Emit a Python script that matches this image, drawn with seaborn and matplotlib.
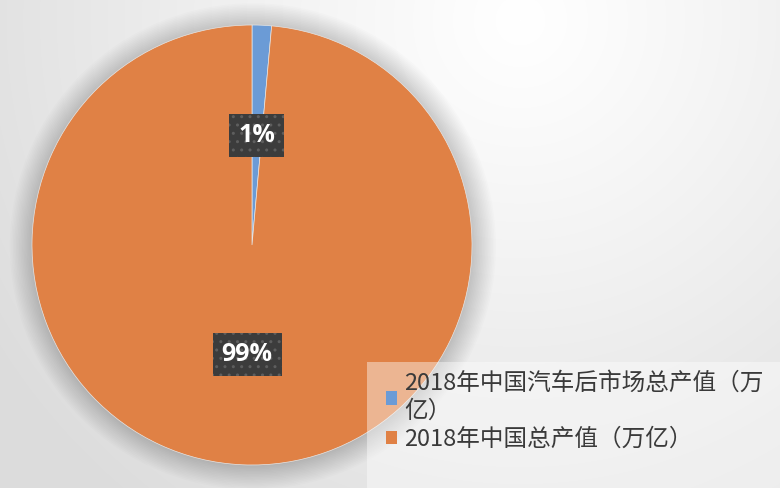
import numpy as np
import matplotlib
matplotlib.use("Agg")
import matplotlib.pyplot as plt
import seaborn as sns
from matplotlib.patches import Patch, Rectangle, Circle

# --- Data (万亿元) ---
categories = ['2018年中国汽车后市场总产值（万\n亿）', '2018年中国总产值（万亿）']
values = [1.3, 90.03]
colors = ['#6B9BD6', '#E08145']

sns.set_style("white")
plt.rcParams['font.family'] = ['Noto Sans CJK SC', 'DejaVu Sans']

W, H = 780, 488
fig = plt.figure(figsize=(W / 100, H / 100), dpi=100)

# --- Background gradient (light radial, brightest near the top) ---
bg = fig.add_axes([0, 0, 1, 1])
yy, xx = np.mgrid[0:H, 0:W]
dist = np.sqrt((xx - 520) ** 2 + (yy - 20) ** 2) / 620
shade = 1.0 - 0.135 * np.clip(dist, 0, 1) ** 1.1
rgb = np.dstack([shade, shade, shade])
bg.imshow(rgb, aspect='auto', extent=[0, W, H, 0], interpolation='bilinear')
bg.set_xlim(0, W)
bg.set_ylim(H, 0)
bg.axis('off')

# --- Pie ---
cx, cy, r = 252, 245, 220
ax = fig.add_axes([(cx - r) / W, (H - cy - r) / H, 2 * r / W, 2 * r / H])
ax.set_facecolor('none')

# soft shadow halo behind the pie
for k in range(16):
    ax.add_patch(Circle((0.004, -0.006), 1.0 + 0.007 * k, color='black', alpha=0.013,
                        lw=0, zorder=0, clip_on=False))

wedges, texts, autotexts = ax.pie(
    values,
    colors=colors,
    startangle=90,
    counterclock=False,
    autopct='%1.0f%%',
    pctdistance=0.5,
    radius=1.0,
    wedgeprops=dict(linewidth=0.5, edgecolor='#e6e6e6'),
    textprops=dict(color='white', fontsize=18, fontweight='bold', family=['Open Sans', 'DejaVu Sans']),
)
for w in wedges:
    w.set_clip_on(False)
for t in autotexts:
    t.set_zorder(5)
    t.set_bbox(dict(boxstyle='square,pad=0.36', fc='#3c3c3c', ec='#5e5e5e', lw=0, hatch='..'))
ax.set_xlim(-1.0, 1.0)
ax.set_ylim(-1.0, 1.0)
ax.set_aspect('equal')
ax.axis('off')

# --- Legend panel (semi-transparent white) ---
fig.patches.append(Rectangle((367 / W, 0), 1 - 367 / W, 126 / H, transform=fig.transFigure,
                             fc='white', ec='none', alpha=0.42, zorder=10))

handles = [Patch(facecolor=c, edgecolor='none') for c in colors]
leg = fig.legend(handles, categories, loc='upper left', bbox_to_anchor=(369 / W, 1 - 355 / H),
                 frameon=False, fontsize=17, handlelength=0.5, handleheight=0.5,
                 handletextpad=0.3, labelspacing=0.2, borderpad=0.2)
for t in leg.get_texts():
    t.set_color('#3a3a3a')
    t.set_linespacing(1.3)
leg.set_zorder(11)

fig.savefig('out.png', dpi=100)
